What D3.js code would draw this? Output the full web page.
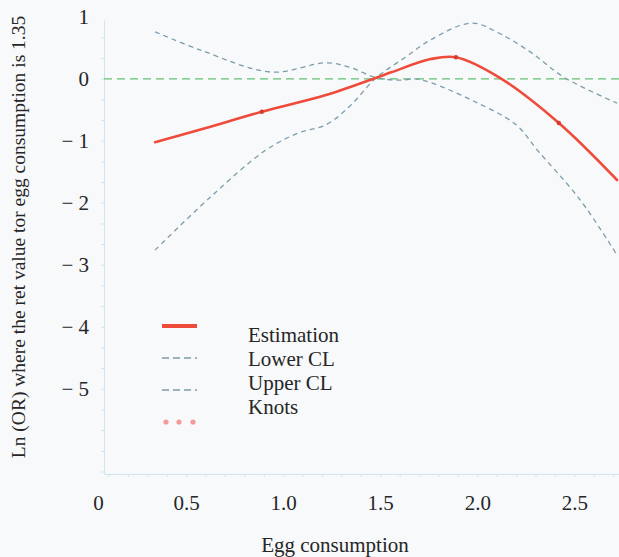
<!DOCTYPE html>
<html>
<head>
<meta charset="utf-8">
<script src="https://cdn.jsdelivr.net/npm/d3@7"></script>
<style>
  html, body { margin: 0; padding: 0; background: #f8f9fb; }
  svg { display: block; }
  svg text { font-family: "Liberation Serif", "DejaVu Serif", "Times New Roman", serif; }
</style>
</head>
<body>
<div id="chart"></div>
<script>
const W = 619, H = 557;

// x values shared by the curves (egg consumption)
const ciX    = [0.34, 0.57, 0.94, 1.22, 1.34, 1.48, 1.60, 1.68, 1.76, 1.97, 2.20, 2.31, 2.53, 2.72];
const upperY = [0.76, 0.47, 0.11, 0.26, 0.19, 0.02, -0.02, 0.00, -0.06, -0.34, -0.74, -1.15, -1.95, -2.84];

const lowerX = [0.34, 0.62, 0.91, 1.08, 1.22, 1.34, 1.48, 1.63, 1.76, 1.97, 2.11, 2.28, 2.45, 2.72];
const lowerY = [-2.76, -1.92, -1.15, -0.87, -0.74, -0.45, 0.02, 0.35, 0.63, 0.90, 0.74, 0.42, 0.02, -0.39];

const estX = [0.34, 0.57, 0.89, 1.22, 1.48, 1.56, 1.76, 1.89, 2.11, 2.42, 2.72];
const estY = [-1.02, -0.82, -0.53, -0.26, 0.02, 0.11, 0.32, 0.35, 0.03, -0.71, -1.63];

const knotX = [0.89, 1.89, 2.42];
const knotY = [-0.53, 0.35, -0.71];

const xTicks = [0, 0.5, 1.0, 1.5, 2.0, 2.5];
const xTickLabels = ["0", "0.5", "1.0", "1.5", "2.0", "2.5"];
const yTicks = [1, 0, -1, -2, -3, -4, -5];

const legendNames = ["Estimation", "Lower CL", "Upper CL", "Knots"];

const textCol = "#262626";
const axisCol = "#d3e4f1";
const ciCol = "#7c9cab";
const estCol = "#ef4b3b";

const x = d3.scaleLinear().domain([0.077, 2.73]).range([104, 619]);
const y = d3.scaleLinear().domain([0.95, -6.37]).range([20, 474]);

const svg = d3.select("#chart").append("svg")
    .attr("width", W)
    .attr("height", H);

svg.append("rect")
    .attr("width", W)
    .attr("height", H)
    .attr("fill", "#f8f9fb");

// axis lines with faint minor ticks
svg.append("g")
    .attr("transform", `translate(0,${y.range()[1]})`)
    .call(d3.axisBottom(x).tickValues(d3.range(0.1, 2.75, 0.1)).tickSize(3).tickSizeOuter(0).tickFormat(""))
    .call(g => g.selectAll("line, path").attr("stroke", axisCol));

svg.append("g")
    .attr("transform", `translate(${x.range()[0]},0)`)
    .call(d3.axisLeft(y).tickValues(d3.range(0.67, -6.4, -1 / 3)).tickSize(3).tickSizeOuter(0).tickFormat(""))
    .call(g => g.selectAll("line, path").attr("stroke", axisCol));

// tick labels
const xAxis = svg.append("g")
    .attr("transform", `translate(0,${y.range()[1]})`)
    .call(d3.axisBottom(x).tickValues(xTicks).tickSize(0).tickPadding(21)
        .tickFormat((d, i) => xTickLabels[i]));
xAxis.select(".domain").remove();
xAxis.selectAll("text")
    .attr("font-size", 21)
    .attr("fill", textCol)
    .attr("dx", d => d === 0 ? 9 : 0);

const yAxis = svg.append("g")
    .attr("transform", `translate(${x.range()[0]},0)`)
    .call(d3.axisLeft(y).tickValues(yTicks).tickSize(0).tickPadding(15)
        .tickFormat(d => d < 0 ? "\u2212 " + Math.abs(d) : String(d)));
yAxis.select(".domain").remove();
yAxis.selectAll("text")
    .attr("font-size", 21)
    .attr("fill", textCol);
xAxis.attr("font-family", null);
yAxis.attr("font-family", null);

// reference line at 0
svg.append("line")
    .attr("x1", x.range()[0]).attr("x2", W)
    .attr("y1", y(0)).attr("y2", y(0))
    .attr("stroke", "#62c272")
    .attr("stroke-width", 1.4)
    .attr("stroke-dasharray", "8,5");

const line = d3.line()
    .x(d => x(d[0]))
    .y(d => y(d[1]))
    .curve(d3.curveCatmullRom.alpha(0.5));

// confidence limits
[[ciX, upperY], [lowerX, lowerY]].forEach(([xs, ys]) => {
    svg.append("path")
        .datum(xs.map((v, i) => [v, ys[i]]))
        .attr("fill", "none")
        .attr("stroke", ciCol)
        .attr("stroke-width", 1.3)
        .attr("stroke-dasharray", "5,4")
        .attr("d", line);
});

// estimation
svg.append("path")
    .datum(estX.map((v, i) => [v, estY[i]]))
    .attr("fill", "none")
    .attr("stroke", estCol)
    .attr("stroke-width", 2.6)
    .attr("stroke-linecap", "round")
    .attr("d", line);

// knots on the curve
svg.selectAll(".knot")
    .data(knotX.map((v, i) => [v, knotY[i]]))
    .enter()
    .append("circle")
    .attr("class", "knot")
    .attr("cx", d => x(d[0]))
    .attr("cy", d => y(d[1]))
    .attr("r", 2.2)
    .attr("fill", "#d93a2c");

// legend
const legend = svg.append("g");
legendNames.forEach((name, i) => {
    const sy = 326 + 32 * i;
    if (i === 0) {
        legend.append("line")
            .attr("x1", 162).attr("x2", 197).attr("y1", sy).attr("y2", sy)
            .attr("stroke", estCol).attr("stroke-width", 4);
    } else if (i < 3) {
        legend.append("line")
            .attr("x1", 162).attr("x2", 197).attr("y1", sy).attr("y2", sy)
            .attr("stroke", ciCol).attr("stroke-width", 1.6)
            .attr("stroke-dasharray", "7,4");
    } else {
        [166, 179, 193].forEach(cx => {
            legend.append("circle")
                .attr("cx", cx).attr("cy", sy).attr("r", 2.6)
                .attr("fill", "#f4999a");
        });
    }
    legend.append("text")
        .attr("x", 248)
        .attr("y", 342 + 24 * i)
        .attr("font-size", 21)
        .attr("fill", textCol)
        .text(name);
});

// axis titles
svg.append("text")
    .attr("x", 335)
    .attr("y", 552)
    .attr("text-anchor", "middle")
    .attr("font-size", 21)
    .attr("fill", textCol)
    .text("Egg consumption");

svg.append("text")
    .attr("transform", "translate(25,237) rotate(-90)")
    .attr("text-anchor", "middle")
    .attr("font-size", 19.5)
    .attr("fill", textCol)
    .text("Ln (OR) where the ret value tor egg consumption is 1.35");
</script>
</body>
</html>
